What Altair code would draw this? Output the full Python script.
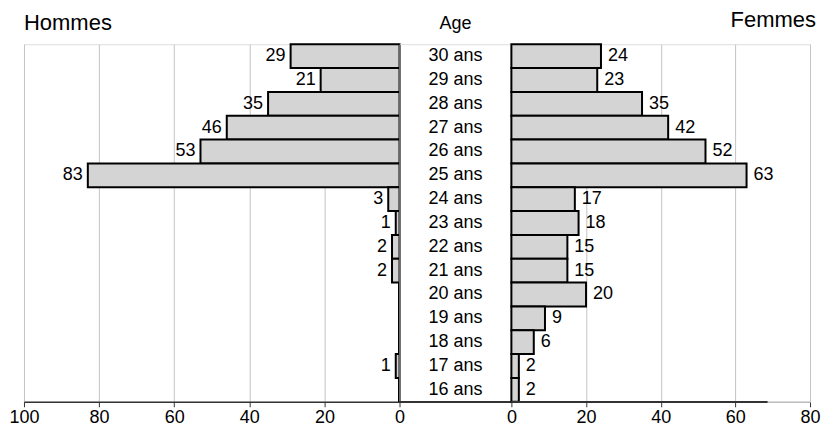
import altair as alt
import pandas as pd

ages = ["30 ans", "29 ans", "28 ans", "27 ans", "26 ans", "25 ans", "24 ans", "23 ans",
        "22 ans", "21 ans", "20 ans", "19 ans", "18 ans", "17 ans", "16 ans"]
hommes = [29, 21, 35, 46, 53, 83, 3, 1, 2, 2, 0, 0, 0, 1, 0]
femmes = [24, 23, 35, 42, 52, 63, 17, 18, 15, 15, 20, 9, 6, 2, 2]
ticks_h = [0, 20, 40, 60, 80, 100]
ticks_f = [0, 20, 40, 60, 80]
titles = ["Hommes", "Age", "Femmes"]

df = pd.DataFrame({"age": ages, "hommes": hommes, "femmes": femmes})

H = 358
WL, WM, WR = 376, 112, 299
FONT = "Liberation Sans"
GRID = "#c4c4c4"
DARK = "#333333"
FILL = "#d4d4d4"

y = alt.Y("age:N", sort=ages, axis=None, scale=alt.Scale(paddingInner=0, paddingOuter=0))


def xaxis(vals, domain_color):
    return alt.Axis(values=vals, title=None, grid=True, gridColor=GRID, gridWidth=1,
                    domainColor=domain_color, domainWidth=1.5, tickColor=DARK, tickSize=5,
                    labelFontSize=18, labelColor="black", labelPadding=2, labelFlush=False,
                    format="d", labelFont=FONT)


def title_mark(text, size, x, dy, align):
    return alt.Chart(pd.DataFrame({"t": [text]})).mark_text(
        align=align, baseline="alphabetic", fontSize=size, font=FONT, color="black"
    ).encode(text="t:N", x=alt.value(x), y=alt.value(dy))


base = alt.Chart(df)

left_bars = base.mark_bar(fill=FILL, stroke="black", strokeWidth=2).encode(
    x=alt.X("hommes:Q", scale=alt.Scale(domain=[0, 100], reverse=True, nice=False),
            axis=xaxis(ticks_h, DARK)),
    y=y,
)
left_zero = base.mark_rule(color="black", strokeWidth=1.5).encode(x=alt.datum(0))
left_labels = base.transform_filter("datum.hommes > 0").mark_text(
    align="right", baseline="middle", dx=-5, fontSize=18, font=FONT, color="black"
).encode(x="hommes:Q", y=y, text="hommes:Q")

left = alt.layer(left_zero, left_bars, left_labels,
                 title_mark(titles[0], 22, 0, -14.6, "left")).properties(width=WL, height=H)

mid_text = base.mark_text(align="center", baseline="middle", fontSize=18, font=FONT,
                          color="black").encode(y=y, text="age:N", x=alt.value(WM / 2))
mid_rule = base.mark_rule(color=DARK, strokeWidth=1.5).encode(
    x=alt.value(0), x2=alt.value(WM), y=alt.value(H))
mid = alt.layer(mid_text, mid_rule,
                title_mark(titles[1], 18, WM / 2, -15.3, "center")).properties(width=WM, height=H)

right_bars = base.mark_bar(fill=FILL, stroke="black", strokeWidth=2).encode(
    x=alt.X("femmes:Q", scale=alt.Scale(domain=[0, 80], nice=False),
            axis=xaxis(ticks_f, "#bdbdbd")),
    y=y,
)
right_labels = base.mark_text(
    align="left", baseline="middle", dx=7, fontSize=18, font=FONT, color="black"
).encode(x="femmes:Q", y=y, text="femmes:Q")
right_rule = base.mark_rule(color=DARK, strokeWidth=1.5).encode(
    x=alt.value(0), x2=alt.value(256), y=alt.value(H))
right = alt.layer(right_bars, right_rule, right_labels,
                  title_mark(titles[2], 22, WR + 6, -17, "right")).properties(width=WR, height=H)

chart = alt.hconcat(left, mid, right, spacing=0, bounds="flush").properties(
    padding={"left": 0, "top": 0, "right": 0, "bottom": 0}
).configure_view(stroke=GRID, strokeWidth=1).configure(font=FONT)

chart.save("out.html", embed_options={"renderer": "svg", "actions": False})
